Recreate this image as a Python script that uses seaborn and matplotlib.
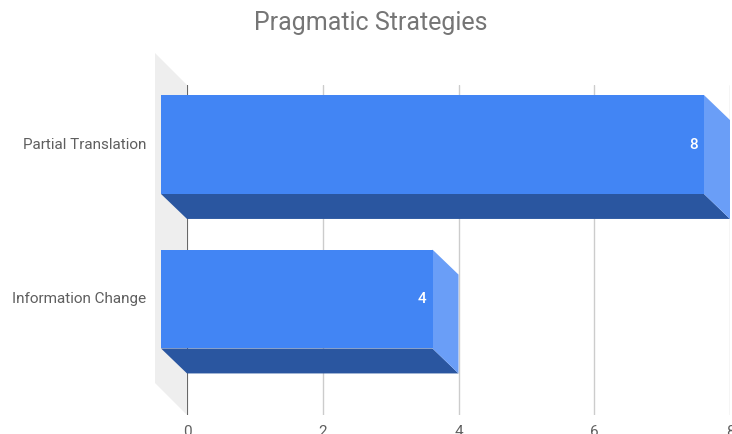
import numpy as np
import pandas as pd
import matplotlib
matplotlib.use("Agg")
import matplotlib.pyplot as plt
from matplotlib.patches import Polygon
import seaborn as sns

categories = ["Partial Translation", "Information Change"]
values = [8, 4]
xticks = [0, 2, 4, 6, 8]
title = "Pragmatic Strategies"

FRONT = "#4285F4"
BOTTOM = "#2A56A0"
SIDE = "#6A9EF7"
WALL = "#EEEEEE"

sns.set_theme(style="white")
plt.rcParams["font.family"] = ["Roboto", "DejaVu Sans"]

W, H, DPI = 732, 434, 100
fig = plt.figure(figsize=(W / DPI, H / DPI), dpi=DPI)
ax = fig.add_axes([187 / W, (H - 415) / H, (730 - 187) / W, (415 - 85) / H])

df = pd.DataFrame({"cat": categories, "val": values})
sns.barplot(data=df, y="cat", x="val", orient="h", color=FRONT, width=0.64,
            saturation=1, ax=ax, zorder=3)

ax.set_xlim(0, 8)
ax.set_ylim(1.589, -0.547)

def px_to_data(dxp, dyp):
    p0 = ax.transData.inverted().transform((0, 0))
    p1 = ax.transData.inverted().transform((dxp, dyp))
    return p1[0] - p0[0], p1[1] - p0[1]

ddx, ddy = px_to_data(26, 25)   # ddx>0, ddy<0 (inverted axis)
wdx, wdy = px_to_data(32, 32)

bars = list(ax.patches)

# left wall
y_top, y_bot = ax.get_ylim()[1], ax.get_ylim()[0]
ax.add_patch(Polygon([(-wdx, y_top + wdy), (0, y_top), (0, y_bot), (-wdx, y_bot + wdy)],
                     closed=True, facecolor=WALL, edgecolor="none", zorder=1, clip_on=False))

for p in bars:
    x0, y0 = p.get_x(), p.get_y()
    w, h = p.get_width(), p.get_height()
    x1, y1 = x0 + w, y0 + h
    ax.add_patch(Polygon([(x0 - ddx, y1 + ddy), (x1 - ddx, y1 + ddy), (x1, y1), (x0, y1)],
                         closed=True, facecolor=BOTTOM, edgecolor="none", zorder=2.5, clip_on=False))
    ax.add_patch(Polygon([(x1 - ddx, y0 + ddy), (x1, y0), (x1, y1), (x1 - ddx, y1 + ddy)],
                         closed=True, facecolor=SIDE, edgecolor="none", zorder=2.5, clip_on=False))
    p.set_x(x0 - ddx)
    p.set_y(y0 + ddy)
    p.set_clip_on(False)
    p.set_edgecolor("none")
    ax.annotate(f"{w:g}", xy=(x1 - ddx, y0 + ddy + h / 2), xytext=(-6, 0),
                textcoords="offset pixels", ha="right", va="center",
                color="white", fontsize=11, fontweight="medium", zorder=5,
                annotation_clip=False)

for i, cat in enumerate(categories):
    ax.annotate(cat, xy=(0, i + ddy), xytext=(-41, 0), textcoords="offset pixels",
                ha="right", va="center", color="#5f5f5f", fontsize=11,
                annotation_clip=False)
ax.set_yticks([])
ax.set_ylabel("")
ax.set_xlabel("")

ax.set_xticks(xticks)
ax.set_xticklabels([str(t) for t in xticks])
ax.tick_params(axis="x", length=0, pad=7, labelsize=11, labelcolor="#5f5f5f")
ax.grid(axis="x", color="#CCCCCC", linewidth=1, zorder=0)
ax.set_axisbelow(True)
ax.axvline(0, color="#555555", linewidth=1.2, zorder=1.5)
for s in ax.spines.values():
    s.set_visible(False)

fig.text(371 / W, 1 - 23 / H, title, ha="center", va="center",
         fontsize=18, color="#757575")

fig.savefig("out.png", dpi=DPI)
